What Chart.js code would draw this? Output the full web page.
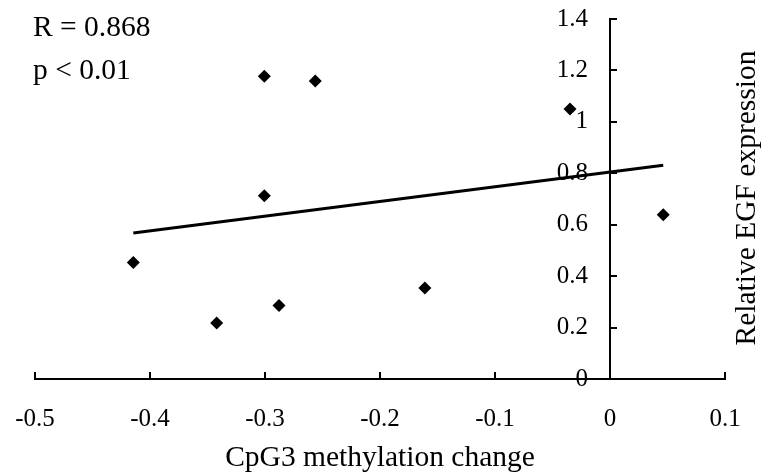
<!DOCTYPE html>
<html>
<head>
<meta charset="utf-8">
<script src="https://cdn.jsdelivr.net/npm/chart.js@4/dist/chart.umd.min.js"></script>
<style>
  body { margin: 0; background: #fff; }
  #wrap { width: 774px; height: 476px; }
</style>
</head>
<body>
<div id="wrap"><canvas id="myChart" width="774" height="476"></canvas></div>
<script>
var methylationChange = [-0.4145, -0.342, -0.3006, -0.3006, -0.2878, -0.2563, -0.161, -0.0348, 0.0463]
var egfExpression = [0.4535, 0.218, 1.177, 0.713, 0.286, 1.159, 0.354, 1.050, 0.639]
var trendX = [-0.4145, 0.0463]
var trendY = [0.568, 0.831]
var xTitle = "CpG3 methylation change"
var yTitle = "Relative EGF expression"
var statLines = ["R = 0.868", "p < 0.01"]

var serif = "'Liberation Serif', 'Times New Roman', serif"
Chart.defaults.color = "#000"

var points = []
for (let i = 0; i < methylationChange.length; i++) {
    points.push({ x: methylationChange[i], y: egfExpression[i] })
}
var trend = []
for (let i = 0; i < trendX.length; i++) {
    trend.push({ x: trendX[i], y: trendY[i] })
}

function tickText(v) {
    return String(Math.round(v * 10) / 10)
}

// tick marks (x ticks point up, y ticks point right), y tick labels left of the
// crossing axis, stats text and the y title on the right
var extras = {
    id: "extras",
    afterDraw: function (chart) {
        var ctx = chart.ctx
        var xs = chart.scales.x
        var ys = chart.scales.y
        var x0 = xs.getPixelForValue(0)
        var y0 = ys.getPixelForValue(0)
        ctx.save()
        ctx.strokeStyle = "#000"
        ctx.lineWidth = 2
        ctx.beginPath()
        xs.ticks.forEach(function (t) {
            var px = Math.round(xs.getPixelForValue(t.value))
            ctx.moveTo(px, y0)
            ctx.lineTo(px, y0 - 7)
        })
        ys.ticks.forEach(function (t) {
            var py = Math.round(ys.getPixelForValue(t.value))
            ctx.moveTo(x0, py)
            ctx.lineTo(x0 + 7, py)
        })
        ctx.stroke()

        ctx.fillStyle = "#000"
        ctx.font = "25px " + serif
        ctx.textAlign = "right"
        ctx.textBaseline = "middle"
        ys.ticks.forEach(function (t) {
            ctx.fillText(tickText(t.value), x0 - 22, ys.getPixelForValue(t.value))
        })

        ctx.font = "29.5px " + serif
        ctx.textAlign = "left"
        ctx.fillText(statLines[0], 33, 28)
        ctx.fillText(statLines[1], 33, 71)

        ctx.translate(747, 198)
        ctx.rotate(-Math.PI / 2)
        ctx.textAlign = "center"
        ctx.fillText(yTitle, 0, 0)
        ctx.restore()
    }
}

new Chart("myChart", {
    type: "scatter",
    data: {
        datasets: [{
            data: points,
            pointStyle: "rectRot",
            pointRadius: 6.5,
            pointBackgroundColor: "#000",
            pointBorderWidth: 0
        }, {
            data: trend,
            showLine: true,
            borderColor: "#000",
            borderWidth: 3,
            pointRadius: 0
        }]
    },
    options: {
        responsive: false,
        animation: false,
        devicePixelRatio: 1,
        layout: { padding: { left: 35, right: 49, top: 19, bottom: 0 } },
        plugins: { legend: { display: false }, tooltip: { enabled: false } },
        scales: {
            x: {
                type: "linear",
                position: "bottom",
                min: -0.5,
                max: 0.1,
                afterFit: function (scale) {
                    scale.height = 97
                    scale.paddingLeft = 0
                    scale.paddingRight = 0
                },
                ticks: { stepSize: 0.1, padding: 25, callback: tickText, font: { family: serif, size: 25 } },
                grid: { display: false, drawTicks: false },
                border: { display: true, color: "#000", width: 2 },
                title: { display: true, text: xTitle, padding: 0, font: { family: serif, size: 29.5 } }
            },
            y: {
                type: "linear",
                position: { x: 0 },
                min: 0,
                max: 1.4,
                afterFit: function (scale) {
                    scale.paddingTop = 0
                    scale.paddingBottom = 0
                },
                ticks: { stepSize: 0.2, display: false },
                grid: { display: false, drawTicks: false },
                border: { display: true, color: "#000", width: 2 }
            }
        }
    },
    plugins: [extras]
})
</script>
</body>
</html>
